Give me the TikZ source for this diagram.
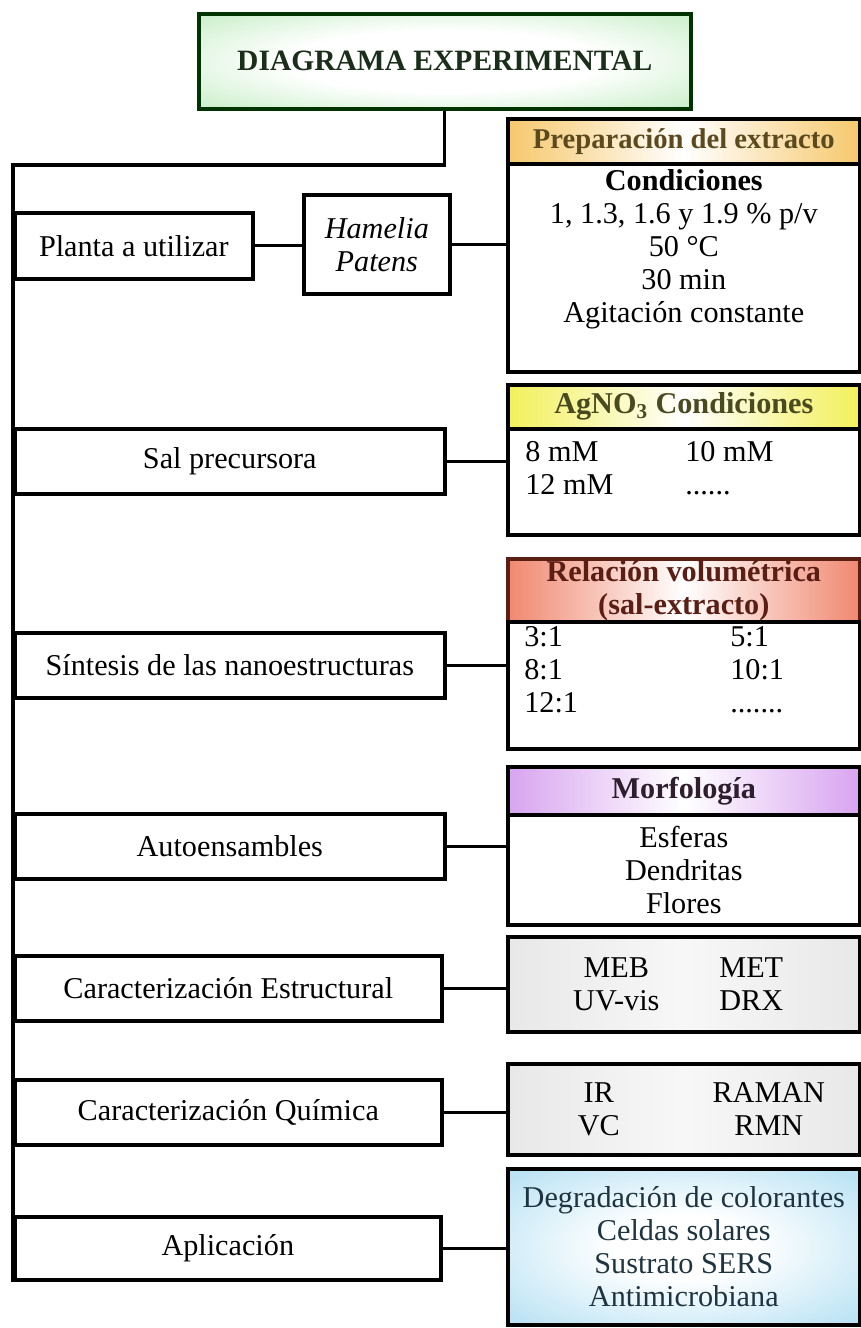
\documentclass[tikz,border=0pt]{standalone}
\usepackage{fontspec}
\setmainfont{Liberation Serif}
\usetikzlibrary{positioning}

\definecolor{titlegreen}{RGB}{160,226,160}
\definecolor{titletext}{RGB}{26,46,26}
\definecolor{prepgold}{RGB}{246,200,108}
\definecolor{preptext}{RGB}{92,74,30}
\definecolor{saltyellow}{RGB}{242,240,90}
\definecolor{salttext}{RGB}{74,74,32}
\definecolor{ratiored}{RGB}{240,136,112}
\definecolor{ratiotext}{RGB}{90,30,20}
\definecolor{morphviolet}{RGB}{216,164,240}
\definecolor{morphtext}{RGB}{46,30,46}
\definecolor{charactgray}{RGB}{232,232,232}
\definecolor{usesblue}{RGB}{150,212,238}
\definecolor{usestext}{RGB}{30,52,64}

\pgfdeclareradialshading{titleglow}{\pgfpoint{0bp}{0bp}}{color(0bp)=(white); color(16bp)=(white); color(50bp)=(titlegreen); color(100bp)=(titlegreen)}
\pgfdeclareradialshading{usesglow}{\pgfpoint{0bp}{0bp}}{color(0bp)=(white); color(10bp)=(white); color(46bp)=(usesblue); color(100bp)=(usesblue)}

\newcommand\diagfont{\fontsize{17.2}{18.7}\selectfont}

\tikzset{
  stage/.style={draw, line width=2.1pt, minimum width=8.6cm, minimum height=1.3cm,
    anchor=north west, inner sep=0pt, font=\diagfont},
  rhead/.style={draw, line width=2.1pt, minimum width=7.04cm, anchor=north west,
    inner sep=0pt, align=center, font=\diagfont\bfseries},
  rbody/.style={draw, line width=2.1pt, minimum width=7.04cm, anchor=north west,
    inner sep=0pt, align=center, font=\diagfont},
  rtext/.style={inner sep=0pt, font=\diagfont},
  link/.style={line width=1.8pt},
}

\begin{document}
\begin{tikzpicture}[x=0.02cm, y=-0.02cm]
\useasboundingbox (0,0) rectangle (861,1328);

% title
\node[draw=black!80!green, line width=2.1pt, shading=titleglow, text=titletext,
  minimum width=9.84cm, minimum height=1.9cm, anchor=north west,
  font=\fontsize{16.8}{18.7}\selectfont\bfseries] (title) at (197,12) {DIAGRAMA EXPERIMENTAL};

% stages on the left
\node[stage, minimum width=4.76cm, minimum height=1.32cm] (planta) at (13,211) {Planta a utilizar};
\node[stage, minimum width=2.92cm, minimum height=1.98cm, align=center] (hamelia) at (302,193) {\textit{Hamelia}\\\textit{Patens}};
\node[stage] (sal) at (13,427) {Sal precursora};
\node[stage] (sintesis) at (13,631) {Síntesis de las nanoestructuras};
\node[stage] (auto) at (13,812) {Autoensambles};
\node[stage, minimum width=8.54cm] (estruct) at (13,954) {Caracterización Estructural};
\node[stage, minimum width=8.54cm] (quimica) at (13,1078) {Caracterización Química};
\node[stage, minimum width=8.52cm, minimum height=1.26cm] (aplic) at (13,1215) {Aplicación};

% detail boxes on the right
\node[rhead, minimum height=0.9cm, left color=prepgold, right color=prepgold, middle color=white,
  text=preptext, font=\fontsize{16.3}{18.7}\selectfont\bfseries] (prephead) at (506,117) {Preparación del extracto};
\node[rbody, minimum height=4.16cm] (prepbody) at (506,162) {};
\node[rtext, anchor=north, align=center] (prepinfo) at ([yshift=-0.15cm]prepbody.north)
  {\textbf{Condiciones}\\1, 1.3, 1.6 y 1.9 \% p/v\\50 °C\\30 min\\Agitación constante};

\node[rhead, minimum height=0.88cm, left color=saltyellow, right color=saltyellow, middle color=white,
  text=salttext] (salthead) at (506,383) {AgNO\textsubscript{3} Condiciones};
\node[rbody, minimum height=2.12cm] (saltbody) at (506,427) {};
\node[rtext, anchor=north west] (saltinfo) at ([shift={(19,11)}]saltbody.north west)
  {\begin{tabular}{@{}p{3.2cm}@{}l@{}}8 mM & 10 mM\\12 mM & ......\end{tabular}};

\node[rhead, minimum height=1.26cm, left color=ratiored, right color=ratiored, middle color=white,
  text=ratiotext, draw=ratiotext] (ratiohead) at (506,557) {Relación volumétrica\\(sal-extracto)};
\node[rbody, minimum height=2.54cm] (ratiobody) at (506,620) {};
\node[rtext, anchor=north west] (ratioinfo) at ([shift={(18,3)}]ratiobody.north west)
  {\begin{tabular}{@{}p{4.12cm}@{}l@{}}3:1 & 5:1\\8:1 & 10:1\\12:1 & .......\end{tabular}};

\node[rhead, minimum height=0.96cm, left color=morphviolet, right color=morphviolet, middle color=white,
  text=morphtext] (morphhead) at (506,765) {Morfología};
\node[rbody, minimum height=2.2cm] (morphbody) at (506,813) {Esferas\\Dendritas\\Flores};

\node[rbody, minimum height=1.9cm, left color=charactgray, right color=charactgray, middle color=black!3]
  (estbody) at (506,935)
  {\makebox[2.7cm]{MEB}\makebox[2.7cm]{MET}\\\makebox[2.7cm]{UV-vis}\makebox[2.7cm]{DRX}};
\node[rbody, minimum height=1.82cm, left color=charactgray, right color=charactgray, middle color=black!3]
  (quimbody) at (506,1062)
  {\makebox[3.4cm]{IR}\makebox[3.4cm]{RAMAN}\\\makebox[3.4cm]{VC}\makebox[3.4cm]{RMN}};

\node[rbody, minimum height=3.12cm, shading=usesglow, text=usestext] (usesbody) at (506,1167)
  {Degradación de colorantes\\Celdas solares\\Sustrato SERS\\Antimicrobiana};

% trunk
\coordinate (trunktop) at (13,165);
\draw[link] (title.south) |- (trunktop) -- (aplic.south west);

% branches
\draw[link] (planta.east) -- (planta.east -| hamelia.west);
\draw[link] (hamelia.east) -- (hamelia.east -| prepbody.west);
\draw[link] (sal.east) -- (sal.east -| saltbody.west);
\draw[link] (sintesis.east) -- (sintesis.east -| ratiobody.west);
\draw[link] (auto.east) -- (auto.east -| morphbody.west);
\draw[link] (estruct.east) -- (estruct.east -| estbody.west);
\draw[link] (quimica.east) -- (quimica.east -| quimbody.west);
\draw[link] (aplic.east) -- (aplic.east -| usesbody.west);
\end{tikzpicture}
\end{document}
